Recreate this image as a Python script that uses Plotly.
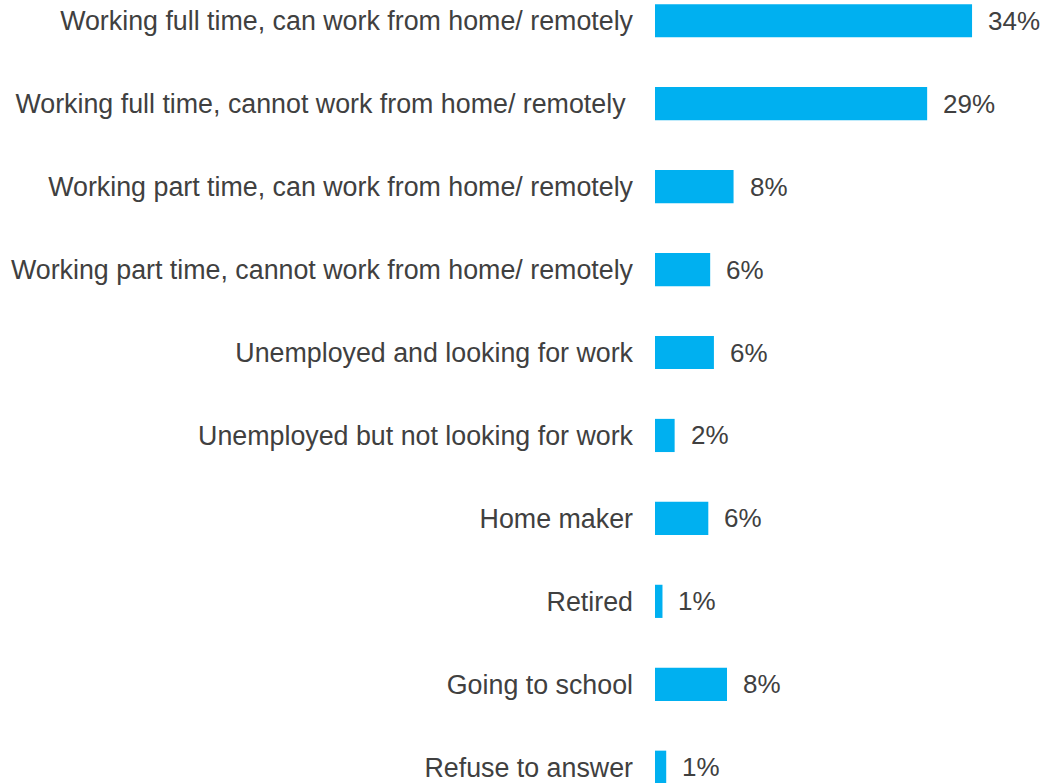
import plotly.graph_objects as go

# Survey categories (top to bottom) and share of respondents, in percent
categories = [
    "Working full time, can work from home/ remotely",
    "Working full time, cannot work from home/ remotely\u00a0",
    "Working part time, can work from home/ remotely",
    "Working part time, cannot work from home/ remotely",
    "Unemployed and looking for work",
    "Unemployed but not looking for work",
    "Home maker",
    "Retired",
    "Going to school",
    "Refuse to answer",
]
shares = [33.9, 29.1, 8.4, 5.9, 6.3, 2.1, 5.7, 0.8, 7.7, 1.2]

BAR_COLOR = "#00B0F0"
TEXT_COLOR = "#404040"
FONT = "Liberation Sans, Arial, sans-serif"

fig = go.Figure(
    go.Bar(
        x=shares,
        y=categories,
        orientation="h",
        marker=dict(color=BAR_COLOR, line=dict(width=0)),
        width=0.4,
        hoverinfo="skip",
    )
)

# Percentage labels just past the end of each bar
for cat, val in zip(categories, shares):
    fig.add_annotation(
        x=val,
        y=cat,
        text=f"{val:.0f}%",
        showarrow=False,
        xanchor="left",
        yanchor="middle",
        xshift=14,
        font=dict(family=FONT, size=26, color=TEXT_COLOR),
    )

fig.update_layout(
    width=1045,
    height=783,
    margin=dict(l=655, r=0, t=0, b=0),
    paper_bgcolor="white",
    plot_bgcolor="white",
    showlegend=False,
    font=dict(family=FONT, size=26, color=TEXT_COLOR),
    xaxis=dict(
        range=[0, 41.7],
        visible=False,
        showgrid=False,
        zeroline=False,
    ),
    yaxis=dict(
        type="category",
        range=[9.19, -0.25],
        showgrid=False,
        zeroline=False,
        showline=False,
        ticks="",
        ticklabelstandoff=21,
        automargin=False,
        tickfont=dict(family=FONT, size=26.8, color=TEXT_COLOR),
    ),
)

fig.write_html("out.html")
